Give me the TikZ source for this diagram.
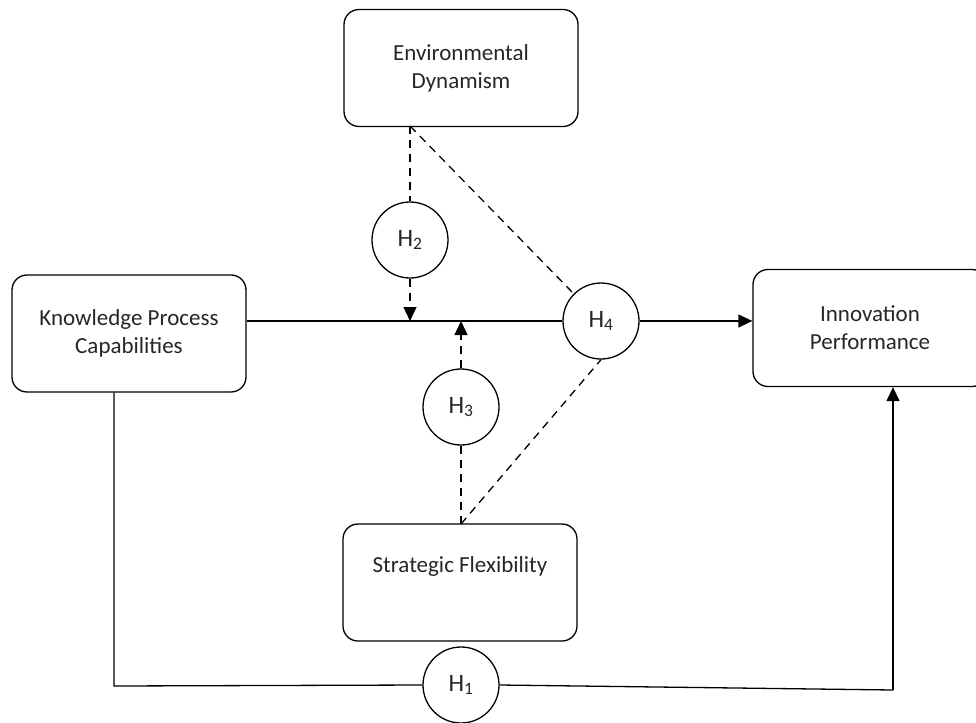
\documentclass[tikz,border=0pt]{standalone}
\usepackage{fontspec}
\setmainfont{Carlito}
\usetikzlibrary{arrows.meta}
\begin{document}
\begin{tikzpicture}[x=1pt,y=-1pt,
  box/.style={draw, line width=1.3pt, rounded corners=15pt, minimum width=234pt, minimum height=117pt, align=center, font=\fontsize{23}{28}\selectfont, text=black!85},
  hcirc/.style={draw, circle, line width=1.3pt, minimum size=76pt, inner sep=0pt, font=\fontsize{25}{28}\selectfont, text=black!85},
  conn/.style={line width=1.3pt},
  dsh/.style={line width=1.3pt, dash pattern=on 8pt off 6pt},
  tip/.style={-{Triangle[length=14pt,width=13pt]}}
]
\useasboundingbox (0,0) rectangle (976,722);
\node[box] (ed) at (461,68) {Environmental\\Dynamism};
\node[box] (kpc) at (129,333.5) {Knowledge Process\\Capabilities};
\node[box] (ip) at (870,328) {Innovation\\Performance};
\node[box] (sf) at (460,582.5) {};
\node[font=\fontsize{23}{28}\selectfont, text=black!85] (sft) at (460,566) {Strategic Flexibility};
\node[hcirc] (h2) at (410,240) {\raisebox{-9pt}{H\textsubscript{2}}};
\node[hcirc] (h3) at (461,407) {\raisebox{-9pt}{H\textsubscript{3}}};
\node[hcirc] (h4) at (601,321) {\raisebox{-9pt}{H\textsubscript{4}}};
\node[hcirc] (h1) at (461,685) {\raisebox{-9pt}{H\textsubscript{1}}};
\coordinate (edb) at (410,126);
\coordinate (sft0) at (461,524);
\coordinate (m2) at (410,321);
\coordinate (m3) at (461,321);
\coordinate (c1) at (114,686);
\coordinate (c2) at (893,690);
% main line
\draw[conn] (h4.west -| kpc.east) -- (h4.west);
\draw[conn,tip] (h4.east) -- (h4.east -| ip.west);
% moderators
\draw[dsh] (edb) -- (h2.north);
\draw[dsh,tip] (h2.south) -- (m2);
\draw[dsh] (edb) -- (h4.north west);
\draw[dsh,tip] (h3.north) -- (m3);
\draw[dsh] (sft0) -- (h3.south);
\draw[dsh] (sft0) -- (h4.south);
% H1
\draw[conn] (c1 |- kpc.south) -- (c1) -- (h1.west);
\draw[conn] (h1.east) -- (c2);
\draw[conn,tip] (c2) -- (c2 |- ip.south);
\end{tikzpicture}
\end{document}
